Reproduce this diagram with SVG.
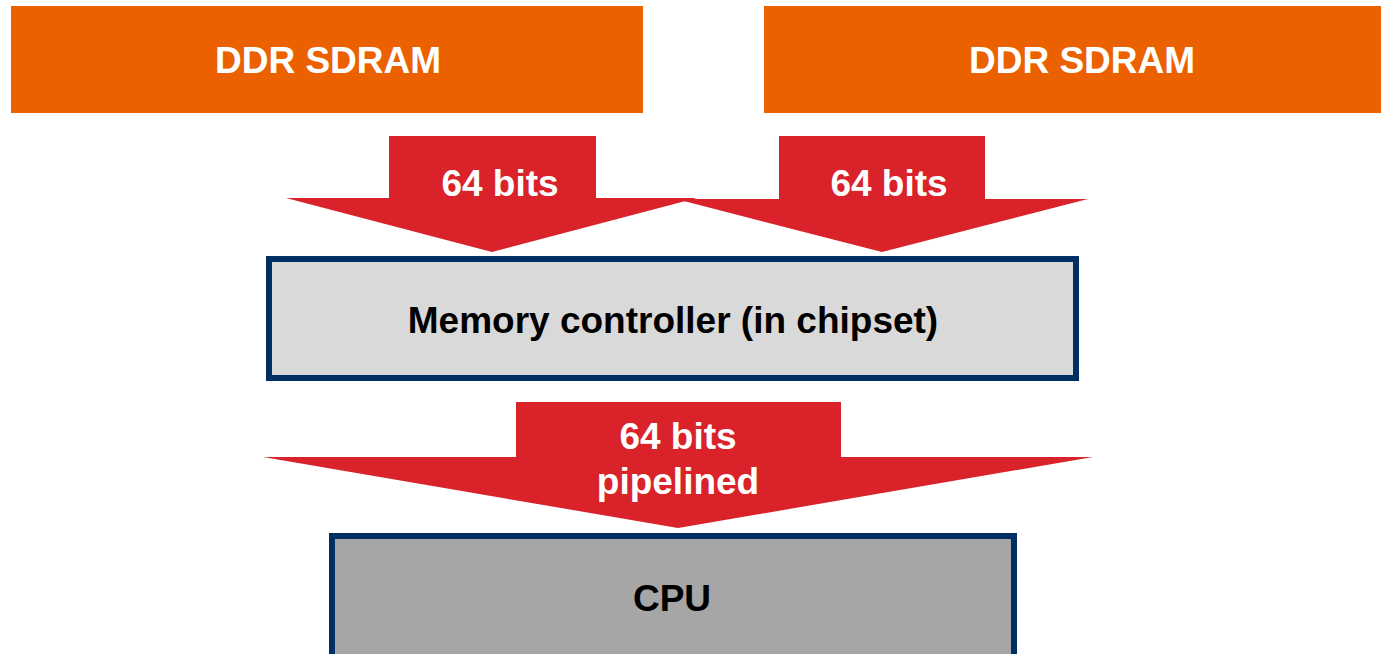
<svg xmlns="http://www.w3.org/2000/svg" width="1381" height="654" viewBox="0 0 1381 654">
<style>
.mem{fill:#eb6100}
.arrow{fill:#d9222a}
.wt{font-family:"Liberation Sans",Arial,sans-serif;font-weight:bold;font-size:37px;fill:#ffffff;text-anchor:middle}
.bt{font-family:"Liberation Sans",Arial,sans-serif;font-weight:bold;font-size:37px;fill:#000000;text-anchor:middle}
.box{stroke:#003063;stroke-width:6}
</style>
<rect width="1381" height="654" fill="#ffffff"/>
<g id="ddr1"><rect class="mem" x="11" y="6" width="632" height="107"/><text class="wt" x="328" y="73">DDR SDRAM</text></g>
<g id="ddr2"><rect class="mem" x="764" y="6" width="632" height="107"/><text class="wt" x="1082" y="73">DDR SDRAM</text></g>
<g id="connectors">
<g id="arrow1"><polygon class="arrow" points="389,136 596,136 596,198 697,198 492,252 286,198 389,198"/><text class="wt" x="500" y="196">64 bits</text></g>
<g id="arrow2"><polygon class="arrow" points="779,136 985,136 985,199 1088,199 882,252 676,199 779,199"/><text class="wt" x="889" y="196">64 bits</text></g>
<g id="arrow3"><polygon class="arrow" points="516,402 841,402 841,457 1093,457 678,528 263,457 516,457"/><text class="wt" x="678" y="449">64 bits</text><text class="wt" x="678" y="494">pipelined</text></g>
</g>
<g id="memctrl"><rect class="box" x="269" y="259" width="807" height="119" fill="#d9d9d9"/><text class="bt" x="673" y="333">Memory controller (in chipset)</text></g>
<g id="cpu"><rect class="box" x="332" y="536" width="682" height="121" fill="#a6a6a6"/><text class="bt" x="672" y="611">CPU</text></g>
</svg>
